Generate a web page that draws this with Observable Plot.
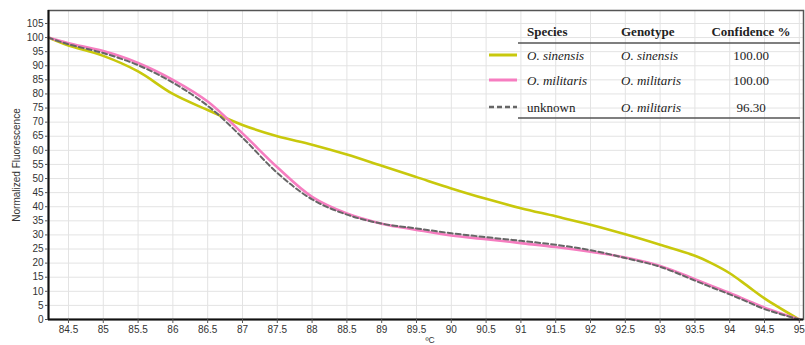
<!DOCTYPE html>
<html><head><meta charset="utf-8">
<script src="https://cdn.jsdelivr.net/npm/d3@7"></script>
<script src="https://cdn.jsdelivr.net/npm/@observablehq/plot@0.6"></script>
<style>
body{margin:0;background:#fff;}
#wrap{position:relative;width:805px;height:345px;overflow:hidden;}
#wrap svg.legend{position:absolute;left:0;top:0;pointer-events:none;}
</style></head><body><div id="wrap"></div>
<script>
// Temperatures (ºC)
const temps     = [84.21, 84.5, 85, 85.5, 86, 86.5, 87, 87.5, 88, 88.5, 89, 89.5, 90, 90.5, 91, 91.5, 92, 92.5, 93, 93.5, 93.75, 94, 94.25, 94.5, 95];
// Normalized fluorescence per series
const sinensis  = [100, 97.2, 93.5, 88, 80, 74.3, 69, 65, 62, 58.5, 54.5, 50.5, 46.5, 42.8, 39.5, 36.6, 33.6, 30.2, 26.5, 22.6, 19.8, 16.4, 12, 7.5, 0];
const militaris = [100, 98, 95.2, 91, 85, 77.3, 66, 54, 43.5, 37.6, 34, 31.8, 29.8, 28.5, 27.1, 25.7, 24, 22, 19, 14.3, 11.8, 9.4, 6.8, 4.2, 0];
const unknown   = [100, 97.6, 94.5, 90.2, 84, 75.8, 64.5, 52, 42.6, 37.2, 34, 32.3, 30.6, 29.2, 27.9, 26.5, 24.6, 21.8, 18.7, 13.8, 11.3, 8.9, 6.3, 3.7, 0];

const xTicks = d3.range(84.5, 95.001, 0.5);
const yTicks = d3.range(0, 105.001, 5);
const xDomain = [84.213, 95.06];
const yDomain = [0, 109.6];
const xLabel = ["ºC"];

// Legend table
const speciesNames = ["O. sinensis", "O. militaris", "unknown"];
const genotypes    = ["O. sinensis", "O. militaris", "O. militaris"];
const confidence   = ["100.00", "100.00", "96.30"];
const seriesColors = ["#c8c80c", "#f67dc0", "#666666"];
const seriesDash   = [null, null, "5,3"];
const seriesWidth  = [2.6, 2.6, 2];

const seriesVals = [sinensis, militaris, unknown];
const data = seriesVals.flatMap((vals, s) => temps.map((t, i) => ({t, v: vals[i], s})));

const plot = Plot.plot({
  width: 805, height: 345,
  marginLeft: 48, marginRight: 2, marginTop: 10, marginBottom: 26,
  style: {fontFamily: "'Liberation Sans', Arial, sans-serif", fontSize: "10px", color: "#333", background: "#fff"},
  x: {domain: xDomain},
  y: {domain: yDomain},
  marks: [
    Plot.gridX(xTicks, {stroke: "#e3e3e3", strokeOpacity: 1, strokeWidth: 1}),
    Plot.gridY(yTicks, {stroke: "#e3e3e3", strokeOpacity: 1, strokeWidth: 1}),
    Plot.frame({stroke: "#555", strokeWidth: 1.5}),
    Plot.line(data.filter(d => d.s === 0), {x: "t", y: "v", stroke: seriesColors[0], strokeWidth: seriesWidth[0], curve: "catmull-rom"}),
    Plot.line(data.filter(d => d.s === 1), {x: "t", y: "v", stroke: seriesColors[1], strokeWidth: seriesWidth[1], curve: "catmull-rom"}),
    Plot.line(data.filter(d => d.s === 2), {x: "t", y: "v", stroke: seriesColors[2], strokeWidth: seriesWidth[2], strokeDasharray: seriesDash[2], curve: "catmull-rom"}),
    Plot.ruleX([xDomain[0]], {stroke: "#111", strokeWidth: 2}),
    Plot.ruleY([0], {stroke: "#111", strokeWidth: 2}),
    Plot.axisX(xTicks, {tickSize: 4, tickPadding: 2, tickFormat: d => String(d), label: null, fontSize: 10, stroke: "#555"}),
    Plot.axisY(yTicks, {tickSize: 3, tickPadding: 2, label: "Normalized Fluorescence", labelArrow: "none", labelAnchor: "center", labelOffset: 36, stroke: "#555"}),
    Plot.text(xLabel, {frameAnchor: "bottom", lineAnchor: "top", dy: 17.5, dx: 4, fontSize: 8.5, fill: "#333"})
  ]
});
document.getElementById("wrap").appendChild(plot);

// Legend overlay (table-style legend inside the plot)
const svg = d3.select("#wrap").append("svg").attr("class", "legend")
  .attr("width", 805).attr("height", 345)
  .style("font-family", "'Liberation Serif', 'Times New Roman', serif")
  .style("font-size", "13px").style("fill", "#222");
const rowY = [55, 80, 107];
svg.append("line").attr("x1", 518).attr("x2", 800).attr("y1", 43).attr("y2", 43).attr("stroke", "#555").attr("stroke-width", 1.5);
svg.append("line").attr("x1", 518).attr("x2", 800).attr("y1", 118).attr("y2", 118).attr("stroke", "#555").attr("stroke-width", 1.5);
const hdr = [["Species", 527, "start"], ["Genotype", 621, "start"], ["Confidence %", 751, "middle"]];
hdr.forEach(([t, x, a]) => svg.append("text").attr("x", x).attr("y", 36).attr("text-anchor", a).attr("font-weight", "bold").text(t));
speciesNames.forEach((name, i) => {
  const y = rowY[i];
  svg.append("line").attr("x1", 489).attr("x2", 517).attr("y1", y).attr("y2", y)
    .attr("stroke", seriesColors[i]).attr("stroke-width", i === 2 ? 2.5 : 3)
    .attr("stroke-dasharray", seriesDash[i]);
  svg.append("text").attr("x", 527).attr("y", y + 4.5).attr("font-style", name === "unknown" ? "normal" : "italic").text(name);
  svg.append("text").attr("x", 621).attr("y", y + 4.5).attr("font-style", "italic").text(genotypes[i]);
  svg.append("text").attr("x", 751).attr("y", y + 4.5).attr("text-anchor", "middle").text(confidence[i]);
});
</script>
</body></html>
